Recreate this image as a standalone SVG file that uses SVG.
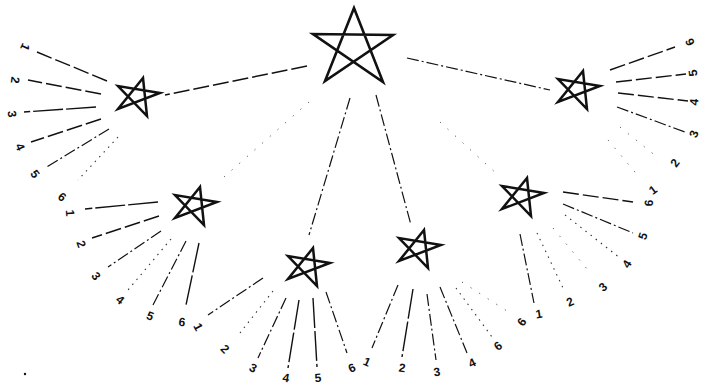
<svg xmlns="http://www.w3.org/2000/svg" width="702" height="385" viewBox="0 0 702 385">
<style>
.bg{fill:#ffffff}
.star{fill:none;stroke:#111;stroke-width:2.5;stroke-linejoin:miter;stroke-miterlimit:12}
.big{fill:none;stroke:#111;stroke-width:2.6;stroke-linejoin:miter;stroke-miterlimit:12}
line{stroke:#111;fill:none}
.dash{stroke-width:1.4;stroke-dasharray:16 4}
.dd{stroke-width:1.2;stroke-dasharray:12 3 2 3}
.solid{stroke-width:1.4;stroke-dasharray:30 3}
.dot{stroke-width:1.1;stroke-dasharray:1.5 5;stroke:#333}
.faint{stroke-width:1;stroke-dasharray:1.2 9;stroke:#555}
text{font-family:"Liberation Sans",Arial,sans-serif;font-weight:bold;font-size:12px;fill:#111;text-anchor:middle;dominant-baseline:central}
</style>
<defs>
<path id="sm" class="star" d="M0,0 L-25,31 L17,15 L-25,8 L4,38 Z"/>
</defs>
<rect class="bg" x="0" y="0" width="702" height="385"/>
<g id="connectors">
<line class="dash" x1="307" y1="66" x2="165" y2="95"/>
<line class="faint" x1="309" y1="102" x2="224" y2="177"/>
<line class="dd" x1="350" y1="98" x2="309" y2="235"/>
<line class="dd" x1="376" y1="95" x2="411" y2="225"/>
<line class="faint" x1="440" y1="122" x2="498" y2="175"/>
<line class="dd" x1="407" y1="58" x2="550" y2="90"/>
<!-- star1 rays -->
<line class="dash" x1="107" y1="81" x2="37" y2="52"/>
<line class="dash" x1="101" y1="94" x2="28" y2="80"/>
<line class="solid" x1="96" y1="107" x2="24" y2="112"/>
<line class="dash" x1="101" y1="119" x2="31" y2="142"/>
<line class="dd" x1="109" y1="129" x2="45" y2="168"/>
<line class="dot" x1="118" y1="137" x2="78" y2="180"/>
<!-- star3 rays -->
<line class="solid" x1="158" y1="202" x2="85" y2="209"/>
<line class="dash" x1="159" y1="216" x2="92" y2="238"/>
<line class="dd" x1="161" y1="231" x2="108" y2="267"/>
<line class="dot" x1="171" y1="239" x2="128" y2="290"/>
<line class="dd" x1="186" y1="241" x2="153" y2="305"/>
<line class="solid" x1="199" y1="243" x2="186" y2="305"/>
<!-- star4 rays -->
<line class="dd" x1="263" y1="278" x2="208" y2="315"/>
<line class="dot" x1="273" y1="291" x2="240" y2="333"/>
<line class="dd" x1="286" y1="298" x2="258" y2="358"/>
<line class="solid" x1="299" y1="300" x2="288" y2="368"/>
<line class="solid" x1="313" y1="298" x2="317" y2="367"/>
<line class="dd" x1="326" y1="292" x2="347" y2="353"/>
<!-- star5 rays -->
<line class="dd" x1="398" y1="285" x2="372" y2="348"/>
<line class="solid" x1="413" y1="289" x2="402" y2="357"/>
<line class="dd" x1="427" y1="294" x2="436" y2="360"/>
<line class="dd" x1="440" y1="287" x2="467" y2="353"/>
<line class="dot" x1="456" y1="288" x2="492" y2="337"/>
<line class="faint" x1="462" y1="282" x2="510" y2="313"/>
<!-- star6 rays -->
<line class="dd" x1="520" y1="234" x2="534" y2="303"/>
<line class="dot" x1="537" y1="233" x2="563" y2="288"/>
<line class="faint" x1="553" y1="228" x2="592" y2="275"/>
<line class="dot" x1="565" y1="215" x2="620" y2="258"/>
<line class="dd" x1="563" y1="204" x2="633" y2="233"/>
<line class="dash" x1="563" y1="192" x2="633" y2="202"/>
<!-- star2 rays -->
<line class="faint" x1="608" y1="140" x2="640" y2="178"/>
<line class="faint" x1="620" y1="127" x2="657" y2="157"/>
<line class="dd" x1="617" y1="107" x2="685" y2="132"/>
<line class="dash" x1="618" y1="93" x2="688" y2="101"/>
<line class="dash" x1="616" y1="82" x2="686" y2="74"/>
<line class="dash" x1="610" y1="70" x2="675" y2="47"/>
</g>
<g id="star-main">
<path class="big" d="M354,8 L325,81 L393,35 L313,34 L383,82 Z"/>
</g>
<g id="star-1">
<use href="#sm" x="143" y="78"/>
<text transform="translate(25,47) rotate(114)">1</text>
<text transform="translate(15,80) rotate(97)">2</text>
<text transform="translate(12,114) rotate(82)">3</text>
<text transform="translate(20,147) rotate(66)">4</text>
<text transform="translate(35,174) rotate(53)">5</text>
<text transform="translate(62,197) rotate(37)">6</text>
</g>
<g id="star-3">
<use href="#sm" x="200" y="187"/>
<text transform="translate(70,213) rotate(86)">1</text>
<text transform="translate(81,244) rotate(71)">2</text>
<text transform="translate(96,276) rotate(54)">3</text>
<text transform="translate(120,300) rotate(38)">4</text>
<text transform="translate(150,316) rotate(22)">5</text>
<text transform="translate(182,322) rotate(6)">6</text>
</g>
<g id="star-4">
<use href="#sm" x="313" y="248"/>
<text transform="translate(198,327) rotate(61)">1</text>
<text transform="translate(225,349) rotate(45)">2</text>
<text transform="translate(253,368) rotate(28)">3</text>
<text transform="translate(286,378) rotate(10)">4</text>
<text transform="translate(318,378) rotate(-5)">5</text>
<text transform="translate(352,368) rotate(-24)">6</text>
</g>
<g id="star-5">
<use href="#sm" x="424" y="230"/>
<text transform="translate(367,362) rotate(24)">1</text>
<text transform="translate(402,368) rotate(8)">2</text>
<text transform="translate(437,372) rotate(-9)">3</text>
<text transform="translate(472,363) rotate(-25)">4</text>
<text transform="translate(498,346) rotate(-39)">6</text>
<text transform="translate(522,322) rotate(-55)">6</text>
</g>
<g id="star-6">
<use href="#sm" x="527" y="178"/>
<text transform="translate(539,314) rotate(-9)">1</text>
<text transform="translate(570,302) rotate(-25)">2</text>
<text transform="translate(603,287) rotate(-42)">3</text>
<text transform="translate(627,264) rotate(-57)">4</text>
<text transform="translate(643,236) rotate(-72)">5</text>
<text transform="translate(649,203) rotate(-87)">6</text>
</g>
<g id="star-2">
<use href="#sm" x="583" y="71"/>
<text transform="translate(653,190) rotate(-37)">1</text>
<text transform="translate(675,163) rotate(-53)">2</text>
<text transform="translate(694,134) rotate(-69)">3</text>
<text transform="translate(694,102) rotate(-84)">4</text>
<text transform="translate(693,73) rotate(-98)">5</text>
<text transform="translate(690,42) rotate(-113)">6</text>
</g>
<circle cx="25" cy="374" r="1.2" fill="#111"/>
</svg>
